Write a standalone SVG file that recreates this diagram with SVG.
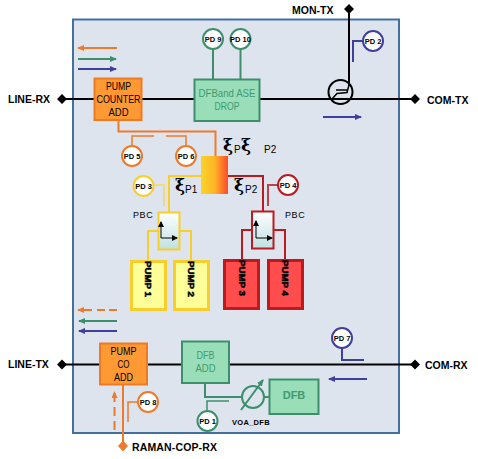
<svg xmlns="http://www.w3.org/2000/svg" width="478" height="459" viewBox="0 0 478 459">
<style>
text{font-family:"Liberation Sans",Arial,sans-serif;fill:#000}
.lb{font-size:10.5px;font-weight:bold}
.pd{font-size:7.500px;font-weight:bold;text-anchor:middle}
.bx{font-size:11.500px;text-anchor:middle}
.gt{fill:#3f9a72}
.sm{font-size:9px;letter-spacing:.6px}
.xi{font-size:17px;font-weight:bold;font-family:"DejaVu Serif",serif}
.p{font-size:10px}
.c{fill:none;stroke-linejoin:miter}
.k{stroke:#000;stroke-width:2}
.o{stroke:#ee7a2c;stroke-width:2}
.g{stroke:#3c8f6a;stroke-width:2}
.b{stroke:#3f3f9c;stroke-width:2}
.y{stroke:#f8cf2a;stroke-width:2}
.r{stroke:#bb1a20;stroke-width:2}
.thin{stroke-width:1.500}
.circ{fill:#fff;stroke-width:2}
.pump{stroke-width:3}
.vt{font-size:9px;font-weight:bold;stroke:#000;stroke-width:.5px}
</style>
<defs>
<linearGradient id="mux" x1="0" x2="1" y1="0" y2="0"><stop offset="0" stop-color="#fbd428"/><stop offset=".5" stop-color="#fdb526"/><stop offset="1" stop-color="#ff4a2a"/></linearGradient>
<linearGradient id="pbc" x1="0" x2="0" y1="0" y2="1"><stop offset="0" stop-color="#ffffff"/><stop offset="1" stop-color="#bfe0e2"/></linearGradient>
<marker id="ag" markerWidth="7" markerHeight="6" refX="6" refY="3" orient="auto" markerUnits="userSpaceOnUse"><path d="M0 0L7 3L0 6Z" fill="#3c8f6a"/></marker>
<marker id="ab" markerWidth="7" markerHeight="6" refX="6" refY="3" orient="auto" markerUnits="userSpaceOnUse"><path d="M0 0L7 3L0 6Z" fill="#3f3f9c"/></marker>
<marker id="ak" markerWidth="6" markerHeight="6" refX="5" refY="3" orient="auto" markerUnits="userSpaceOnUse"><path d="M0 0L6 3L0 6Z" fill="#000"/></marker>
<marker id="aor" markerWidth="7" markerHeight="6" refX="6" refY="3" orient="auto" markerUnits="userSpaceOnUse"><path d="M0 0L7 3L0 6Z" fill="#ee7a2c"/></marker>
</defs>
<rect id="frame" x="73" y="19.500" width="326" height="413.500" fill="#dde4ee" stroke="#44709f" stroke-width="2"/>
<g id="connectors">
<path class="c k" d="M62 99H415M349 9V86M62 364.500H415"/>
<path class="c o" d="M118.500 120V131.500H215.500V156"/>
<path class="c o thin" d="M132 146V136H154M166 136H186V146"/>
<path class="c g" d="M213 49V79M240.500 49V79"/>
<path class="c b" d="M363 41H353V62"/>
<path class="c y" d="M201 176H169V212"/>
<path class="c r" d="M228 176H263V212"/>
<path class="c" stroke="#efd888" stroke-width="2" d="M153 185H164V206"/>
<path class="c" stroke="#b8444c" stroke-width="2" d="M278 185H268V206"/>
<path class="c y" d="M158 231H148V261M180 231H191V261"/>
<path class="c r" d="M252 230H242V260M274 230H285V260"/>
<path class="c o" d="M123 385V446"/>
<path class="c o" stroke-dasharray="9 5" d="M114.500 430V392" marker-end="url(#aor)"/>
<path class="c o thin" d="M138 402H128V422"/>
<path class="c g" d="M205 383V397H242M264 397H269"/>
<path class="c g thin" d="M207 411V401H229"/>
<path class="c b" d="M342 348V360H364"/>
<path class="c o" d="M117 48H78" marker-end="url(#aor)"/>
<path class="c g" d="M78 59H116" marker-end="url(#ag)"/>
<path class="c b" d="M78 69H116" marker-end="url(#ab)"/>
<path class="c b" d="M323 117H361" marker-end="url(#ab)"/>
<path class="c o" d="M92 310H78" marker-end="url(#aor)"/>
<path class="c o" d="M97 310H105M109 310H117"/>
<path class="c g" d="M117 321H79" marker-end="url(#ag)"/>
<path class="c b" d="M117 331H79" marker-end="url(#ab)"/>
<path class="c b" d="M367 379H329" marker-end="url(#ab)"/>
<path d="M57 99l5-5 5 5-5 5zM344 9l5-5 5 5-5 5zM410 99l5-5 5 5-5 5zM57 364.500l5-5 5 5-5 5zM410 364.500l5-5 5 5-5 5z" fill="#000"/>
<path d="M118 446l5-5.500 5 5.500-5 5.500z" fill="#ee7a2c"/>
</g>
<g id="pump-counter-add"><rect x="94.500" y="78.500" width="47" height="41.500" fill="#ff9933" stroke="#f07a24" stroke-width="2"/>
<text class="bx" x="118.500" y="90" textLength="25" lengthAdjust="spacingAndGlyphs">PUMP</text><text class="bx" x="118.500" y="103" textLength="44" lengthAdjust="spacingAndGlyphs">COUNTER</text><text class="bx" x="118.500" y="116" textLength="20" lengthAdjust="spacingAndGlyphs">ADD</text></g>
<g id="dfb-ase-drop"><rect x="194.500" y="79.500" width="65" height="41.500" fill="#99deb8" stroke="#3c8f6a" stroke-width="2"/>
<text class="bx gt" x="227" y="97" textLength="57" lengthAdjust="spacingAndGlyphs">DFBand ASE</text><text class="bx gt" x="227" y="110" textLength="25" lengthAdjust="spacingAndGlyphs">DROP</text></g>
<g id="pd9"><circle class="circ" cx="213" cy="39" r="10" stroke="#3c8f6a"/><text class="pd" x="213" y="42">PD 9</text></g>
<g id="pd10"><circle class="circ" cx="240.500" cy="39" r="10" stroke="#3c8f6a"/><text class="pd" x="240.500" y="42">PD 10</text></g>
<g id="pd2"><circle class="circ" cx="373" cy="41" r="10" stroke="#3f3f9c"/><text class="pd" x="373" y="44">PD 2</text></g>
<g id="coupler"><circle cx="340.500" cy="92" r="12" fill="none" stroke="#000" stroke-width="2"/><path d="M332 99L337 93.500L347 92.500L349 85M336 90H347" fill="none" stroke="#000" stroke-width="1.500"/></g>
<g id="pd5"><circle class="circ" cx="132" cy="156" r="10" stroke="#ee7a2c"/><text class="pd" x="132" y="159">PD 5</text></g>
<g id="pd6"><circle class="circ" cx="186" cy="156" r="10" stroke="#ee7a2c"/><text class="pd" x="186" y="159">PD 6</text></g>
<g id="pd3"><circle class="circ" cx="143.500" cy="186" r="10" stroke="#f8cf2a"/><text class="pd" x="143.500" y="189">PD 3</text></g>
<g id="pd4"><circle class="circ" cx="288" cy="185" r="10" stroke="#bb1a20"/><text class="pd" x="288" y="188">PD 4</text></g>
<g id="mux"><rect x="201" y="156" width="27" height="38" fill="url(#mux)"/>
<text class="xi" x="223" y="151">ξ</text><text class="p" x="234" y="153">P</text><text class="xi" x="241" y="151">ξ</text><text class="p" x="264" y="153">P2</text>
<text class="xi" x="175" y="191">ξ</text><text class="p" x="185" y="193">P1</text>
<text class="xi" x="234" y="191">ξ</text><text class="p" x="245" y="193">P2</text></g>
<g id="pbc-yellow"><rect x="158.500" y="212.500" width="21" height="37" fill="url(#pbc)" stroke="#f8cf2a" stroke-width="2"/>
<path d="M161 238V222" class="c" stroke="#000" stroke-width="1" marker-end="url(#ak)"/><path d="M161 238H177" class="c" stroke="#000" stroke-width="1" marker-end="url(#ak)"/>
<text class="sm" x="133" y="218">PBC</text></g>
<g id="pbc-red"><rect x="252" y="211.500" width="21.500" height="37" fill="url(#pbc)" stroke="#bb1a20" stroke-width="2"/>
<path d="M256 238V221" class="c" stroke="#000" stroke-width="1" marker-end="url(#ak)"/><path d="M256 238H272" class="c" stroke="#000" stroke-width="1" marker-end="url(#ak)"/>
<text class="sm" x="285" y="218">PBC</text></g>
<g id="pump1"><rect class="pump" x="131.500" y="261.500" width="34" height="48" fill="#ffff99" stroke="#f8cf2a"/>
<text class="vt" transform="translate(144.500 261) rotate(90)" textLength="36" lengthAdjust="spacingAndGlyphs">PUMP 1</text></g>
<g id="pump2"><rect class="pump" x="174.500" y="261.500" width="34" height="48" fill="#ffff99" stroke="#f8cf2a"/>
<text class="vt" transform="translate(188 261) rotate(90)" textLength="36" lengthAdjust="spacingAndGlyphs">PUMP 2</text></g>
<g id="pump3"><rect class="pump" x="224.500" y="260.500" width="34" height="48" fill="#ff4d4d" stroke="#bb1a20"/>
<text class="vt" transform="translate(238.500 260) rotate(90)" textLength="36" lengthAdjust="spacingAndGlyphs">PUMP 3</text></g>
<g id="pump4"><rect class="pump" x="268.500" y="260.500" width="34" height="48" fill="#ff4d4d" stroke="#bb1a20"/>
<text class="vt" transform="translate(282 260) rotate(90)" textLength="36" lengthAdjust="spacingAndGlyphs">PUMP 4</text></g>
<g id="pump-co-add"><rect x="100" y="343.500" width="47" height="41" fill="#ff9933" stroke="#f07a24" stroke-width="2"/>
<text class="bx" x="123.500" y="355" textLength="26" lengthAdjust="spacingAndGlyphs">PUMP</text><text class="bx" x="123.500" y="368" textLength="12" lengthAdjust="spacingAndGlyphs">CO</text><text class="bx" x="123.500" y="381" textLength="19" lengthAdjust="spacingAndGlyphs">ADD</text></g>
<g id="dfb-add"><rect x="182" y="341.500" width="47" height="41.500" fill="#99deb8" stroke="#3c8f6a" stroke-width="2"/>
<text class="bx gt" x="205.500" y="359" textLength="18" lengthAdjust="spacingAndGlyphs">DFB</text><text class="bx gt" x="205.500" y="372" textLength="20" lengthAdjust="spacingAndGlyphs">ADD</text></g>
<g id="voa"><circle cx="253" cy="397" r="11" fill="none" stroke="#3c8f6a" stroke-width="2"/><path d="M241 410L263 380" stroke="#3c8f6a" stroke-width="2" fill="none" marker-end="url(#ag)"/>
<text x="232" y="425" style="font-size:7.500px;letter-spacing:.3px;font-weight:bold">VOA_DFB</text></g>
<g id="dfb"><rect x="269.500" y="379.500" width="49" height="34.500" fill="#99deb8" stroke="#3c8f6a" stroke-width="2"/><text x="294" y="399" text-anchor="middle" style="font-size:11px;font-weight:bold;fill:#3f9a72">DFB</text></g>
<g id="pd8"><circle class="circ" cx="148" cy="402" r="10" stroke="#ee7a2c"/><text class="pd" x="148" y="405">PD 8</text></g>
<g id="pd1"><circle class="circ" cx="207.500" cy="421" r="10" stroke="#3c8f6a"/><text class="pd" x="207.500" y="424">PD 1</text></g>
<g id="pd7"><circle class="circ" cx="342" cy="338" r="10" stroke="#3f3f9c"/><text class="pd" x="342" y="341">PD 7</text></g>
<g id="labels">
<text class="lb" x="8" y="103">LINE-RX</text>
<text class="lb" x="292" y="14">MON-TX</text>
<text class="lb" x="427" y="104">COM-TX</text>
<text class="lb" x="8" y="368">LINE-TX</text>
<text class="lb" x="425" y="369">COM-RX</text>
<text class="lb" x="132" y="451" textLength="85">RAMAN-COP-RX</text>
</g>
</svg>
